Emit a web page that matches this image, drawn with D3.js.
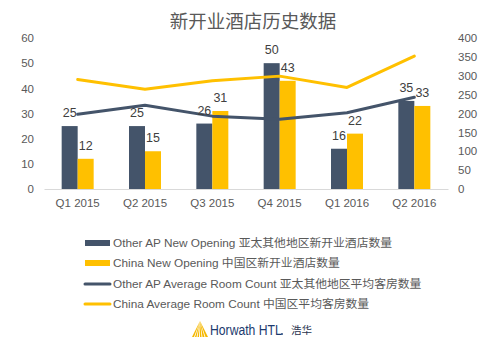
<!DOCTYPE html>
<html><head><meta charset="utf-8">
<script src="https://cdn.jsdelivr.net/npm/d3@7"></script>
<style>body{margin:0;background:#fff}svg{display:block}</style>
</head><body>
<svg id="c" width="502" height="340"></svg>
<script>
const categories = ["Q1 2015","Q2 2015","Q3 2015","Q4 2015","Q1 2016","Q2 2016"];
const otherOpening = [25,25,26,50,16,35];
const chinaOpening = [12,15,31,43,22,33];
const otherRooms = [198,222,193,185,202,243];
const chinaRooms = [290,264,287,299,269,352];
const leftTicks = [0,10,20,30,40,50,60];
const rightTicks = [0,50,100,150,200,250,300,350,400];
const legendLabels = ["Other AP New Opening 亚太其他地区新开业酒店数量","China New Opening 中国区新开业酒店数量","Other AP Average Room Count 亚太其他地区平均客房数量","China Average Room Count 中国区平均客房数量"];

const DARK="#44546A", GOLD="#FFC000", TXT="#595959";
const svg=d3.select("#c");
const font="'Liberation Sans', Arial, sans-serif";

svg.append("text").attr("x",253).attr("y",28).attr("text-anchor","middle")
  .attr("font-family","'Noto Sans CJK SC', sans-serif").attr("font-size",18.5).attr("fill",TXT).text("新开业酒店历史数据");

const x=d3.scaleBand().domain(categories).range([44,448]);
const yL=d3.scaleLinear().domain([0,60]).range([189,38]);
const yR=d3.scaleLinear().domain([0,400]).range([189,38]);
const bw=16;

const gL=svg.append("g").attr("transform","translate(34,0)")
  .call(d3.axisLeft(yL).tickValues(leftTicks).tickSize(0).tickPadding(0));
const gR=svg.append("g").attr("transform","translate(458,0)")
  .call(d3.axisRight(yR).tickValues(rightTicks).tickSize(0).tickPadding(0));
[gL,gR].forEach(g=>{g.select(".domain").remove();g.selectAll("text").attr("font-family",font).attr("font-size",11.5).attr("fill",TXT);});

const bars=[{vals:otherOpening,color:DARK,off:-bw},{vals:chinaOpening,color:GOLD,off:0}];
bars.forEach(s=>{
  svg.append("g").selectAll("rect").data(categories).join("rect")
    .attr("x",(d)=>x(d)+x.bandwidth()/2+s.off).attr("width",bw)
    .attr("y",(d,i)=>yL(s.vals[i])).attr("height",(d,i)=>yL(0)-yL(s.vals[i]))
    .attr("fill",s.color);
});

const gx=svg.append("g").attr("transform","translate(0,189)")
  .call(d3.axisBottom(x).tickSize(0).tickPadding(10));
gx.select(".domain").attr("stroke","#D9D9D9").attr("stroke-width",1);
gx.selectAll("text").attr("font-family",font).attr("font-size",11.5).attr("fill",TXT);

const line=(vals)=>d3.line().x((d,i)=>x(categories[i])+x.bandwidth()/2).y(d=>yR(d))(vals);
svg.append("path").attr("d",line(chinaRooms)).attr("fill","none").attr("stroke",GOLD).attr("stroke-width",3).attr("stroke-linejoin","round").attr("stroke-linecap","round");
svg.append("path").attr("d",line(otherRooms)).attr("fill","none").attr("stroke",DARK).attr("stroke-width",3).attr("stroke-linejoin","round").attr("stroke-linecap","round");

bars.forEach(s=>{
  svg.append("g").selectAll("text").data(categories).join("text")
    .attr("x",(d)=>x(d)+x.bandwidth()/2+s.off+bw/2)
    .attr("y",(d,i)=>yL(s.vals[i])-9)
    .attr("text-anchor","middle").attr("font-family",font).attr("font-size",12.5).attr("fill","#404040")
    .text((d,i)=>s.vals[i]);
});

const lg=svg.append("g");
const rowsY=[243,263,284,304];
legendLabels.forEach((t,i)=>{
  const y=rowsY[i];
  if(i<2){
    lg.append("rect").attr("x",85).attr("y",y-3).attr("width",25).attr("height",6).attr("fill",i==0?DARK:GOLD);
  } else {
    lg.append("line").attr("x1",85).attr("x2",110).attr("y1",y).attr("y2",y).attr("stroke",i==2?DARK:GOLD).attr("stroke-width",3).attr("stroke-linecap","round");
  }
  lg.append("text").attr("x",113).attr("y",y+4).attr("font-family","'Liberation Sans', 'Noto Sans CJK SC', sans-serif").attr("font-size",11.8).attr("fill",TXT).text(t);
});

// logo
const logo=svg.append("g");
const ax=200, ay=321;
[[-8,-6],[-5,-3.5],[-2.5,-1],[0,1.5],[2.5,4.5],[5.5,8]].forEach(([a,b])=>{
  logo.append("path").attr("d",`M${ax} ${ay} L${ax+a} 337 L${ax+b} 337 Z`).attr("fill","#F5B800");
});
logo.append("text").attr("transform","translate(210,335) scale(1,1.2)").attr("font-family","'Liberation Sans', Arial, sans-serif").attr("font-size",12.2)
  .attr("fill","#1C3A6E").text("Horwath HTL");
logo.append("circle").attr("cx",282).attr("cy",334).attr("r",0.9).attr("fill","#1C3A6E");
logo.append("text").attr("x",291).attr("y",334).attr("font-family","'Noto Sans CJK SC', sans-serif").attr("font-size",10.5).attr("fill","#2A3550").text("浩华");
</script>
</body></html>
